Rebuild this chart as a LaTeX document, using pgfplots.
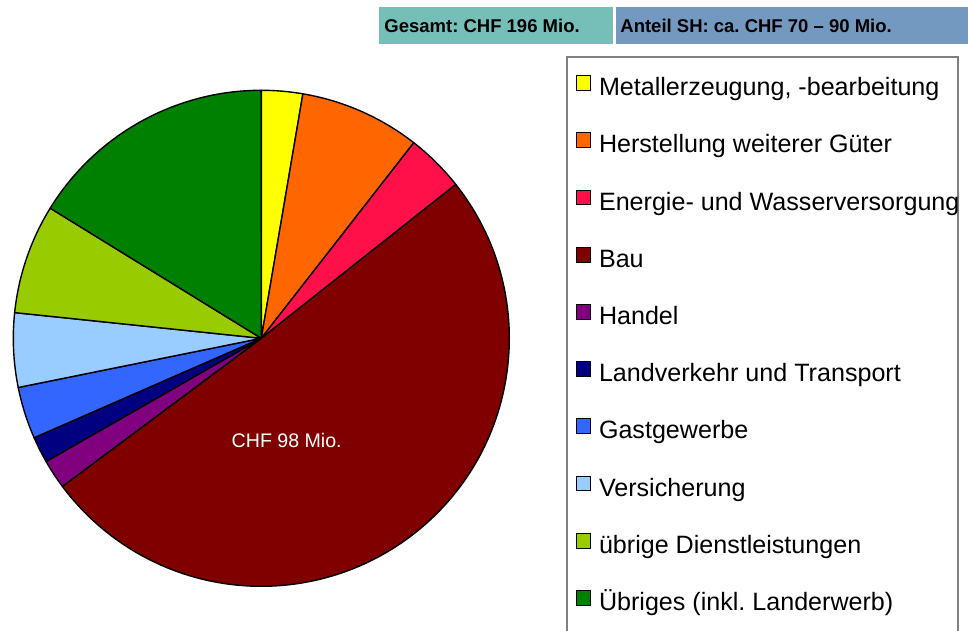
\documentclass[border=0pt]{standalone}
\usepackage{fontspec}
\setmainfont{Liberation Sans}
\usepackage{pgfplots}
\usepackage{pgfplotstable}
\pgfplotsset{compat=1.18}
\frenchspacing

% slice colours
\definecolor{cMet}{HTML}{FFFF00}
\definecolor{cHer}{HTML}{FF6600}
\definecolor{cEne}{HTML}{FF1048}
\definecolor{cBau}{HTML}{800000}
\definecolor{cHan}{HTML}{800080}
\definecolor{cLan}{HTML}{000080}
\definecolor{cGas}{HTML}{3366FF}
\definecolor{cVer}{HTML}{99CCFF}
\definecolor{cDie}{HTML}{99CC00}
\definecolor{cUeb}{HTML}{008000}
\definecolor{boxA}{HTML}{76BFB9}
\definecolor{boxB}{HTML}{7499C0}

% CHF Mio. (total 196)
\pgfplotstableread[col sep=semicolon]{
name;value;color
Metallerzeugung, -bearbeitung;5.26;cMet
Herstellung weiterer Güter;15.4;cHer
Energie- und Wasserversorgung;7.47;cEne
Bau;98.9;cBau
Handel;3.75;cHan
Landverkehr und Transport;3.35;cLan
Gastgewerbe;6.64;cGas
Versicherung;9.47;cVer
übrige Dienstleistungen;13.99;cDie
Übriges (inkl. Landerwerb);31.74;cUeb
}\data
\pgfplotstablecreatecol[create col/expr accum={\pgfmathaccuma+\thisrow{value}}{0}]{cum}{\data}
\pgfplotstablecreatecol[create col/expr={90-(\thisrow{cum}-\thisrow{value})*360/196}]{a0}{\data}
\pgfplotstablecreatecol[create col/expr={90-\thisrow{cum}*360/196}]{a1}{\data}

\begin{document}
\begin{tikzpicture}
\begin{axis}[
  name=ax,
  width=484pt, height=315.5pt, scale only axis,
  xmin=0, xmax=968, ymin=0, ymax=631, y dir=reverse,
  axis lines=none, clip=false,
  legend image code/.code={\draw[#1, draw=black, line width=0.5pt] (0pt,-0.6pt) rectangle (7pt,6.8pt);},
  legend cell align=left,
  legend style={draw=none, fill=none, inner sep=0pt, outer sep=0pt,
    at={(axis cs:576,75.2)}, anchor=north west,
    row sep=15.3pt, column sep=4pt,
    font=\fontsize{12.55}{15}\selectfont,
    nodes={inner sep=0pt, text height=9.4pt, text depth=3.1pt}},
]
\pgfplotsinvokeforeach{0,...,9}{
  \pgfplotstablegetelem{#1}{a0}\of\data \let\sA\pgfplotsretval
  \pgfplotstablegetelem{#1}{a1}\of\data \let\sB\pgfplotsretval
  \pgfplotstablegetelem{#1}{color}\of\data \let\sC\pgfplotsretval
  \pgfplotstablegetelem{#1}{name}\of\data \let\sN\pgfplotsretval
  \edef\tmp{%
    \noexpand\filldraw[fill=\sC, draw=black, line width=0.7pt, line join=round]
      (axis cs:261.3,338.3) -- ++(\sA:124pt) arc[start angle=\sA, end angle=\sB, radius=124pt] -- cycle;
    \noexpand\addlegendimage{fill=\sC}
    \noexpand\addlegendentry{\sN}}
  \tmp
}
\node[white, font=\fontsize{9.8}{11}\selectfont] at (axis cs:286.7,440) {CHF 98 Mio.};
% header boxes
\fill[boxA] (axis cs:379,7) rectangle (axis cs:613,44);
\fill[boxB] (axis cs:616,7) rectangle (axis cs:968,44);
\node[anchor=west, inner sep=0pt, font=\bfseries\fontsize{9.25}{11}\selectfont] at (axis cs:384,26) {Gesamt: CHF 196 Mio.};
\node[anchor=west, inner sep=0pt, font=\bfseries\fontsize{9.25}{11}\selectfont] at (axis cs:620,26) {Anteil SH: ca. CHF 70 – 90 Mio.};
% legend frame (runs off the bottom edge)
\draw[gray, line width=1pt] (axis cs:567,640) -- (axis cs:567,57) -- (axis cs:958,57) -- (axis cs:958,640);
\end{axis}
\pgfresetboundingbox
\path[use as bounding box] (ax.south west) rectangle (ax.north east);
\end{tikzpicture}
\end{document}
